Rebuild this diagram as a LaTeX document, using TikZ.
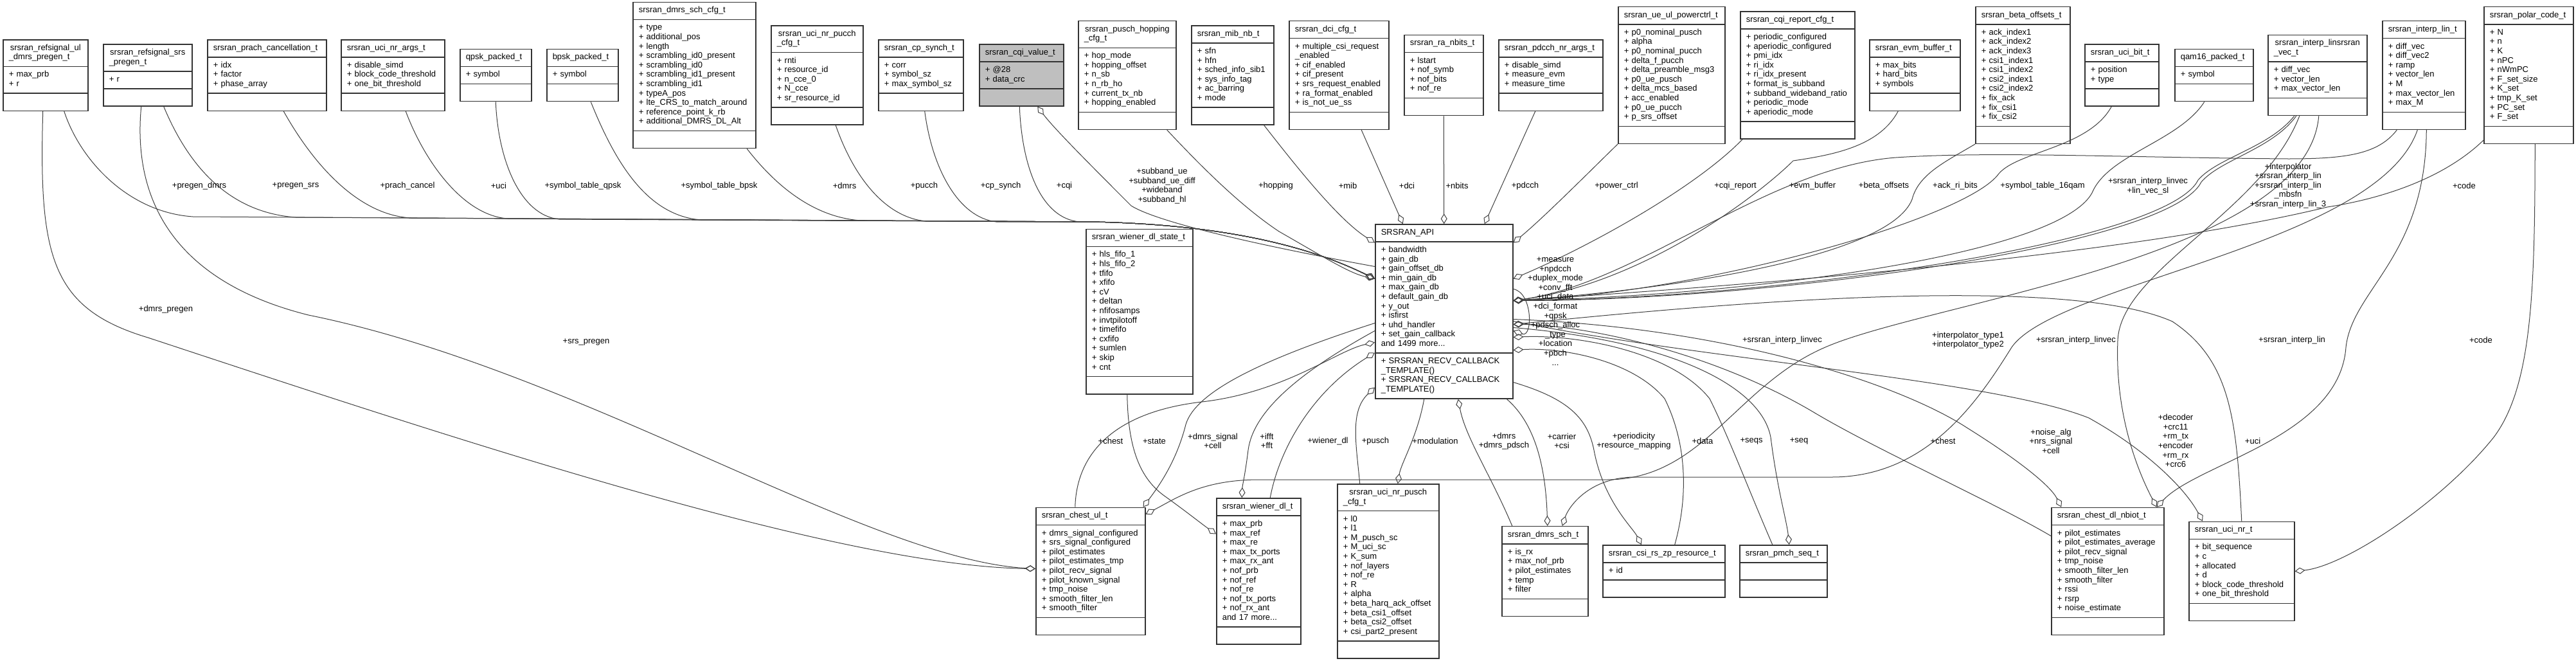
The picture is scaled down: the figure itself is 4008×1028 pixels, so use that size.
\documentclass[tikz,border=0pt]{standalone}
\usepackage{fontspec}
\setmainfont{Liberation Sans}
\usepackage{tikz}
\usetikzlibrary{shapes.multipart}
\usetikzlibrary{arrows.meta}

\begin{document}
\begin{tikzpicture}[x=1pt, y=-1pt,
    cls/.style={rectangle split, rectangle split parts=3, draw=black!80, line width=1.5pt,
      fill=white, anchor=west, align=left, inner xsep=9pt, inner ysep=5.5pt,
      font=\fontsize{13}{14.6}\selectfont},
    link/.style={draw=black!75, line width=1pt, -{Diamond[open, length=16pt, width=10pt]}},
    lbl/.style={align=center, inner sep=0pt, font=\fontsize{13}{14.6}\selectfont}]
    \useasboundingbox (0,0) rectangle (4008,1028);

    % Top row of structs
    \node[cls, text width=114pt] (refsigul) at (4,117) {\centering\strut srsran\_refsignal\_ul\\\_dmrs\_pregen\_t\strut
      \nodepart{two}\strut+~max\_prb\\+~r\strut \nodepart{three}\strut};
    \node[cls, text width=120pt] (refsigsrs) at (160,117) {\centering\strut srsran\_refsignal\_srs\\\_pregen\_t\strut
      \nodepart{two}\strut+~r\strut \nodepart{three}\strut};
    \node[cls, text width=167pt] (prach) at (322,117) {\centering\strut srsran\_prach\_cancellation\_t\strut
      \nodepart{two}\strut+~idx\\+~factor\\+~phase\_array\strut \nodepart{three}\strut};
    \node[cls, text width=143pt] (ucinrargs) at (530,117) {\centering\strut srsran\_uci\_nr\_args\_t\strut
      \nodepart{two}\strut+~disable\_simd\\+~block\_code\_threshold\\+~one\_bit\_threshold\strut \nodepart{three}\strut};
    \node[cls, text width=93pt] (qpsk) at (715,117) {\centering\strut qpsk\_packed\_t\strut
      \nodepart{two}\strut+~symbol\strut \nodepart{three}\strut};
    \node[cls, text width=93pt] (bpsk) at (850,117) {\centering\strut bpsk\_packed\_t\strut
      \nodepart{two}\strut+~symbol\strut \nodepart{three}\strut};
    \node[cls, text width=173pt] (dmrscfg) at (984,117) {\centering\strut srsran\_dmrs\_sch\_cfg\_t\strut
      \nodepart{two}\strut+~type\\+~additional\_pos\\+~length\\+~scrambling\_id0\_present\\+~scrambling\_id0\\
      +~scrambling\_id1\_present\\+~scrambling\_id1\\+~typeA\_pos\\+~lte\_CRS\_to\_match\_around\\
      +~reference\_point\_k\_rb\\+~additional\_DMRS\_DL\_Alt\strut \nodepart{three}\strut};
    \node[cls, text width=125pt] (ucipucch) at (1199,117) {\centering\strut srsran\_uci\_nr\_pucch\\\_cfg\_t\strut
      \nodepart{two}\strut+~rnti\\+~resource\_id\\+~n\_cce\_0\\+~N\_cce\\+~sr\_resource\_id\strut \nodepart{three}\strut};
    \node[cls, text width=114pt] (cpsynch) at (1366,117) {\centering\strut srsran\_cp\_synch\_t\strut
      \nodepart{two}\strut+~corr\\+~symbol\_sz\\+~max\_symbol\_sz\strut \nodepart{three}\strut};
    \node[cls, text width=113pt, fill=black!25] (cqivalue) at (1523,117) {\centering\strut srsran\_cqi\_value\_t\strut
      \nodepart{two}\strut+~@28\\+~data\_crc\strut \nodepart{three}\strut};
    \node[cls, text width=134pt] (hopping) at (1677,117) {\centering\strut srsran\_pusch\_hopping\\\_cfg\_t\strut
      \nodepart{two}\strut+~hop\_mode\\+~hopping\_offset\\+~n\_sb\\+~n\_rb\_ho\\+~current\_tx\_nb\\+~hopping\_enabled\strut
      \nodepart{three}\strut};
    \node[cls, text width=110pt] (mibnb) at (1853,117) {\centering\strut srsran\_mib\_nb\_t\strut
      \nodepart{two}\strut+~sfn\\+~hfn\\+~sched\_info\_sib1\\+~sys\_info\_tag\\+~ac\_barring\\+~mode\strut
      \nodepart{three}\strut};
    \node[cls, text width=137pt] (dcicfg) at (2005,117) {\centering\strut srsran\_dci\_cfg\_t\strut
      \nodepart{two}\strut+~multiple\_csi\_request\\\_enabled\\+~cif\_enabled\\+~cif\_present\\+~srs\_request\_enabled\\
      +~ra\_format\_enabled\\+~is\_not\_ue\_ss\strut \nodepart{three}\strut};
    \node[cls, text width=105pt] (ranbits) at (2184,117) {\centering\strut srsran\_ra\_nbits\_t\strut
      \nodepart{two}\strut+~lstart\\+~nof\_symb\\+~nof\_bits\\+~nof\_re\strut \nodepart{three}\strut};
    \node[cls, text width=144pt] (pdcchargs) at (2331,117) {\centering\strut srsran\_pdcch\_nr\_args\_t\strut
      \nodepart{two}\strut+~disable\_simd\\+~measure\_evm\\+~measure\_time\strut \nodepart{three}\strut};
    \node[cls, text width=148pt] (powerctrl) at (2517,117) {\centering\strut srsran\_ue\_ul\_powerctrl\_t\strut
      \nodepart{two}\strut+~p0\_nominal\_pusch\\+~alpha\\+~p0\_nominal\_pucch\\+~delta\_f\_pucch\\+~delta\_preamble\_msg3\\
      +~p0\_ue\_pusch\\+~delta\_mcs\_based\\+~acc\_enabled\\+~p0\_ue\_pucch\\+~p\_srs\_offset\strut \nodepart{three}\strut};
    \node[cls, text width=160pt] (cqireport) at (2707,117) {\centering\strut srsran\_cqi\_report\_cfg\_t\strut
      \nodepart{two}\strut+~periodic\_configured\\+~aperiodic\_configured\\+~pmi\_idx\\+~ri\_idx\\+~ri\_idx\_present\\
      +~format\_is\_subband\\+~subband\_wideband\_ratio\\+~periodic\_mode\\+~aperiodic\_mode\strut \nodepart{three}\strut};
    \node[cls, text width=123pt] (evmbuf) at (2908,117) {\centering\strut srsran\_evm\_buffer\_t\strut
      \nodepart{two}\strut+~max\_bits\\+~hard\_bits\\+~symbols\strut \nodepart{three}\strut};
    \node[cls, text width=129pt] (betaoff) at (3073,117) {\centering\strut srsran\_beta\_offsets\_t\strut
      \nodepart{two}\strut+~ack\_index1\\+~ack\_index2\\+~ack\_index3\\+~csi1\_index1\\+~csi1\_index2\\+~csi2\_index1\\
      +~csi2\_index2\\+~fix\_ack\\+~fix\_csi1\\+~fix\_csi2\strut \nodepart{three}\strut};
    \node[cls, text width=97pt] (ucibit) at (3243,117) {\centering\strut srsran\_uci\_bit\_t\strut
      \nodepart{two}\strut+~position\\+~type\strut \nodepart{three}\strut};
    \node[cls, text width=104pt] (qam16) at (3383,117) {\centering\strut qam16\_packed\_t\strut
      \nodepart{two}\strut+~symbol\strut \nodepart{three}\strut};
    \node[cls, text width=136pt] (linvec) at (3528,117) {\centering\strut srsran\_interp\_linsrsran\\\_vec\_t\strut
      \nodepart{two}\strut+~diff\_vec\\+~vector\_len\\+~max\_vector\_len\strut \nodepart{three}\strut};
    \node[cls, text width=111pt] (interplin) at (3706,117) {\centering\strut srsran\_interp\_lin\_t\strut
      \nodepart{two}\strut+~diff\_vec\\+~diff\_vec2\\+~ramp\\+~vector\_len\\+~M\\+~max\_vector\_len\\+~max\_M\strut
      \nodepart{three}\strut};
    \node[cls, text width=121pt] (polar) at (3864,117) {\centering\strut srsran\_polar\_code\_t\strut
      \nodepart{two}\strut+~N\\+~n\\+~K\\+~nPC\\+~nWmPC\\+~F\_set\_size\\+~K\_set\\+~tmp\_K\_set\\+~PC\_set\\+~F\_set\strut
      \nodepart{three}\strut};

    % Middle row
    \node[cls, text width=196pt] (api) at (2139,484.5) {\centering\strut SRSRAN\_API\strut
      \nodepart{two}\strut+~bandwidth\\+~gain\_db\\+~gain\_offset\_db\\+~min\_gain\_db\\+~max\_gain\_db\\+~default\_gain\_db\\
      +~y\_out\\+~isfirst\\+~uhd\_handler\\+~set\_gain\_callback\\and 1499 more...\strut
      \nodepart{three}\strut+~SRSRAN\_RECV\_CALLBACK\\\_TEMPLATE()\\+~SRSRAN\_RECV\_CALLBACK\\\_TEMPLATE()\strut};
    \node[cls, text width=148pt] (wienerstate) at (1689,484.5) {\centering\strut srsran\_wiener\_dl\_state\_t\strut
      \nodepart{two}\strut+~hls\_fifo\_1\\+~hls\_fifo\_2\\+~tfifo\\+~xfifo\\+~cV\\+~deltan\\+~nfifosamps\\+~invtpilotoff\\
      +~timefifo\\+~cxfifo\\+~sumlen\\+~skip\\+~cnt\strut \nodepart{three}\strut};

    % Bottom row
    \node[cls, text width=152pt] (chestul) at (1611,888.5) {\centering\strut srsran\_chest\_ul\_t\strut
      \nodepart{two}\strut+~dmrs\_signal\_configured\\+~srs\_signal\_configured\\+~pilot\_estimates\\+~pilot\_estimates\_tmp\\
      +~pilot\_recv\_signal\\+~pilot\_known\_signal\\+~tmp\_noise\\+~smooth\_filter\_len\\+~smooth\_filter\strut
      \nodepart{three}\strut};
    \node[cls, text width=113pt] (wienerdl) at (1892,888.5) {\centering\strut srsran\_wiener\_dl\_t\strut
      \nodepart{two}\strut+~max\_prb\\+~max\_ref\\+~max\_re\\+~max\_tx\_ports\\+~max\_rx\_ant\\+~nof\_prb\\+~nof\_ref\\
      +~nof\_re\\+~nof\_tx\_ports\\+~nof\_rx\_ant\\and 17 more...\strut \nodepart{three}\strut};
    \node[cls, text width=140pt] (ucipusch) at (2080,888.5) {\centering\strut srsran\_uci\_nr\_pusch\\\_cfg\_t\strut
      \nodepart{two}\strut+~l0\\+~l1\\+~M\_pusch\_sc\\+~M\_uci\_sc\\+~K\_sum\\+~nof\_layers\\+~nof\_re\\+~R\\+~alpha\\
      +~beta\_harq\_ack\_offset\\+~beta\_csi1\_offset\\+~beta\_csi2\_offset\\+~csi\_part2\_present\strut
      \nodepart{three}\strut};
    \node[cls, text width=116pt] (dmrssch) at (2336,888.5) {\centering\strut srsran\_dmrs\_sch\_t\strut
      \nodepart{two}\strut+~is\_rx\\+~max\_nof\_prb\\+~pilot\_estimates\\+~temp\\+~filter\strut \nodepart{three}\strut};
    \node[cls, text width=172pt] (csizp) at (2493,888.5) {\centering\strut srsran\_csi\_rs\_zp\_resource\_t\strut
      \nodepart{two}\strut+~id\strut \nodepart{three}\strut};
    \node[cls, text width=118pt] (pmch) at (2706,888.5) {\centering\strut srsran\_pmch\_seq\_t\strut
      \nodepart{two}\strut \nodepart{three}\strut};
    \node[cls, text width=157pt] (chestnbiot) at (3191,888.5) {\centering\strut srsran\_chest\_dl\_nbiot\_t\strut
      \nodepart{two}\strut+~pilot\_estimates\\+~pilot\_estimates\_average\\+~pilot\_recv\_signal\\+~tmp\_noise\\
      +~smooth\_filter\_len\\+~smooth\_filter\\+~rssi\\+~rsrp\\+~noise\_estimate\strut \nodepart{three}\strut};
    \node[cls, text width=146pt] (ucinr) at (3405,888.5) {\centering\strut srsran\_uci\_nr\_t\strut
      \nodepart{two}\strut+~bit\_sequence\\+~c\\+~allocated\\+~d\\+~block\_code\_threshold\\+~one\_bit\_threshold\strut
      \nodepart{three}\strut};

    % Top row into SRSRAN_API, left bundle
    \draw[link] ([xshift=29pt]refsigul.south) .. controls (125,250) and (200,330) .. (300,337) -- (1700,345)
      .. controls (1950,350) and (2070,400) .. ([yshift=51pt]api.west);
    \draw[link] ([xshift=25pt]refsigsrs.south) .. controls (290,250) and (350,330) .. (460,338) -- (1700,345)
      .. controls (1950,350) and (2070,400) .. ([yshift=51pt]api.west);
    \draw[link] ([xshift=26pt]prach.south) .. controls (490,260) and (560,335) .. (640,339) -- (1700,345)
      .. controls (1950,350) and (2070,400) .. ([yshift=51pt]api.west);
    \draw[link] ([xshift=20pt]ucinrargs.south) .. controls (660,250) and (720,335) .. (790,340) -- (1700,345)
      .. controls (1950,350) and (2070,400) .. ([yshift=51pt]api.west);
    \draw[link] (qpsk.south) .. controls (775,250) and (810,335) .. (870,341) -- (1700,345)
      .. controls (1950,350) and (2070,400) .. ([yshift=51pt]api.west);
    \draw[link] ([xshift=13pt]bpsk.south) .. controls (960,260) and (1010,335) .. (1090,342) -- (1700,345)
      .. controls (1950,350) and (2070,400) .. ([yshift=51pt]api.west);
    \draw[link] ([xshift=82pt]dmrscfg.south) .. controls (1200,280) and (1260,338) .. (1340,343) -- (1700,345)
      .. controls (1950,350) and (2070,400) .. ([yshift=51pt]api.west);
    \draw[link] ([xshift=29pt]ucipucch.south) .. controls (1330,280) and (1380,338) .. (1440,344) -- (1700,345)
      .. controls (1950,350) and (2070,400) .. ([yshift=51pt]api.west);
    \draw[link] ([xshift=6pt]cpsynch.south) .. controls (1450,260) and (1490,338) .. (1550,345) -- (1700,345)
      .. controls (1950,350) and (2070,400) .. ([yshift=51pt]api.west);
    \draw[link] ([xshift=-3pt]cqivalue.south) .. controls (1590,260) and (1620,340) .. (1680,345) -- (1700,345)
      .. controls (1950,350) and (2070,400) .. ([yshift=51pt]api.west);
    \draw[link] ([yshift=70pt]api.west) .. controls (1950,380) and (1800,345) .. (1760,320)
      .. controls (1700,260) and (1640,200) .. ([xshift=25pt]cqivalue.south);
    \draw[link] ([xshift=62pt]hopping.south) .. controls (1870,260) and (1930,320) .. (1990,360)
      .. controls (2060,400) and (2100,425) .. ([yshift=51pt]api.west);
    \draw[link] ([xshift=49pt]mibnb.south) .. controls (2010,250) and (2080,340) .. ([yshift=107pt]api.west);
    \draw[link] ([xshift=35pt]dcicfg.south) -- ([xshift=-64pt]api.north);
    \draw[link] (ranbits.south) -- (api.north);
    \draw[link] ([xshift=-24pt]pdcchargs.south) -- ([xshift=63pt]api.north);

    % Top row into SRSRAN_API, right side
    \draw[link] (powerctrl.south west) .. controls (2470,270) and (2400,340) .. ([yshift=107pt]api.east);
    \draw[link] ([xshift=4pt]cqireport.south west) .. controls (2640,290) and (2480,380) .. ([yshift=51pt]api.east);
    \draw[link] ([xshift=-26pt]evmbuf.south) .. controls (2925,225) and (2860,240) .. (2790,250)
      .. controls (2740,300) and (2560,440) .. ([yshift=17pt]api.east);
    \draw[link] (betaoff.south west) .. controls (3030,250) and (2985,270) .. (2975,310)
      .. controls (2940,400) and (2600,450) .. ([yshift=17pt]api.east);
    \draw[link] ([xshift=-16pt]ucibit.south) .. controls (3250,230) and (3140,235) .. (3110,270)
      .. controls (3060,340) and (2650,455) .. ([yshift=17pt]api.east);
    \draw[link] ([xshift=-15pt]qam16.south) .. controls (3390,220) and (3280,240) .. (3255,300)
      .. controls (3200,400) and (2700,460) .. ([yshift=17pt]api.east);
    \draw[link] ([xshift=-36pt]linvec.south) .. controls (3530,230) and (3450,245) .. (3420,280)
      .. controls (3370,380) and (2750,465) .. ([yshift=17pt]api.east);
    \draw[link] ([xshift=-33pt]linvec.south) .. controls (3535,232) and (3455,248) .. (3425,283)
      .. controls (3375,383) and (2755,467) .. ([yshift=17pt]api.east);
    \draw[link] ([xshift=-42pt]interplin.south) .. controls (3700,240) and (3650,247) .. (3560,247)
      .. controls (3300,245) and (3100,235) .. (2950,245) .. controls (2750,260) and (2550,440) .. ([yshift=17pt]api.east);
    \draw[link] ([yshift=6pt]polar.south west) .. controls (3800,280) and (3700,310) .. (3621,322)
      .. controls (3300,400) and (2700,445) .. ([yshift=17pt]api.east);
    \draw[link] ([yshift=35pt]api.east) .. controls (2385,455) and (2385,525) .. ([yshift=-30pt]api.east);

    % Links that skip the middle row
    \draw[link] ([xshift=-4pt]refsigul.south) .. controls (60,400) and (80,480) .. (230,525)
      .. controls (700,680) and (1300,880) .. ([yshift=4pt]chestul.west);
    \draw[link] ([xshift=-10pt]refsigsrs.south) .. controls (205,320) and (280,440) .. (480,490)
      .. controls (900,575) and (1350,870) .. ([yshift=4pt]chestul.west);
    \draw[link] ([xshift=2pt]linvec.south) .. controls (3590,400) and (3000,470) .. (2840,540)
      .. controls (2700,600) and (2650,746) .. (2500,746) -- (1960,746)
      .. controls (1870,746) and (1830,775) .. ([yshift=-11pt]chestul.north east);
    \draw[link] ([xshift=-10pt]interplin.south) .. controls (3700,380) and (3200,440) .. (3130,540)
      .. controls (3080,620) and (3000,742) .. (2850,742) -- (2540,742)
      .. controls (2470,744) and (2440,790) .. ([xshift=27pt]dmrssch.north);
    \draw[link] ([xshift=-28pt]linvec.south) .. controls (3520,330) and (3300,420) .. (3295,529)
      .. controls (3290,650) and (3330,740) .. ([xshift=-12pt]chestnbiot.north east);
    \draw[link] ([xshift=4pt]interplin.south) .. controls (3774,400) and (3660,450) .. (3650,540)
      .. controls (3640,680) and (3420,720) .. ([xshift=-12pt]chestnbiot.north east);
    \draw[link] ([xshift=10pt]polar.south) .. controls (3944,450) and (3940,600) .. (3880,680)
      .. controls (3800,780) and (3650,880) .. (ucinr.east);

    % Bottom row
    \draw[link] ([xshift=-24pt]chestul.north) .. controls (1675,700) and (1740,640) .. (1870,625)
      .. controls (2000,610) and (2080,545) .. ([yshift=-48pt]api.west);
    \draw[link] ([xshift=-19pt]wienerstate.south) .. controls (1755,690) and (1770,740) .. (1810,770)
      .. controls (1845,795) and (1870,815) .. ([yshift=58pt]wienerdl.west);
    \draw[link] ([yshift=-18pt]api.west) .. controls (1960,560) and (1860,610) .. (1845,660)
      .. controls (1830,720) and (1800,760) .. ([xshift=-4pt]chestul.north east);
    \draw[link] ([yshift=-30pt]api.west) .. controls (2020,580) and (1950,640) .. (1942,700)
      .. controls (1937,740) and (1933,755) .. ([xshift=-26pt]wienerdl.north);
    \draw[link] ([xshift=18pt]wienerdl.north) .. controls (1990,700) and (2040,610) .. ([yshift=-64pt]api.west);
    \draw[link] ([xshift=-44pt]ucipusch.north) .. controls (2110,690) and (2100,640) .. ([yshift=-118pt]api.west);
    \draw[link] ([xshift=-31pt]api.south) .. controls (2205,680) and (2180,720) .. ([xshift=15pt]ucipusch.north);
    \draw[link] ([xshift=-51pt]dmrssch.north) .. controls (2320,740) and (2280,680) .. ([xshift=22pt]api.south);
    \draw[link] ([xshift=-10pt]api.south east) .. controls (2390,660) and (2405,730) .. ([xshift=4pt]dmrssch.north);
    \draw[link] ([yshift=-110pt]api.east) .. controls (2440,620) and (2470,650) .. (2480,700)
      .. controls (2495,780) and (2540,820) .. ([xshift=-35pt]csizp.north);
    \draw[link] ([xshift=17pt]csizp.north) .. controls (2630,760) and (2620,680) .. (2590,620)
      .. controls (2540,560) and (2430,540) .. ([yshift=-60pt]api.east);
    \draw[link] ([xshift=-17pt]pmch.north) .. controls (2720,760) and (2690,680) .. (2660,620)
      .. controls (2600,545) and (2450,520) .. ([yshift=-40pt]api.east);
    \draw[link] ([yshift=-25pt]api.east) .. controls (2600,530) and (2740,600) .. (2755,680)
      .. controls (2765,760) and (2780,810) .. ([xshift=9pt]pmch.north);
    \draw[link] ([yshift=55pt]chestnbiot.west) .. controls (3100,780) and (2920,700) .. (2820,640)
      .. controls (2650,540) and (2450,505) .. ([yshift=-20pt]api.east);
    \draw[link] ([yshift=-12pt]api.east) .. controls (2700,510) and (2960,600) .. (3060,665)
      .. controls (3140,715) and (3190,755) .. ([xshift=-72pt]chestnbiot.north);
    \draw[link] (ucinr.north) .. controls (3480,650) and (3470,560) .. (3380,500)
      .. controls (3200,420) and (2600,480) .. ([yshift=-20pt]api.east);
    \draw[link] ([yshift=-15pt]api.east) .. controls (2650,560) and (3100,590) .. (3250,650)
      .. controls (3340,700) and (3400,760) .. ([xshift=22pt]ucinr.north west);

    % Labels, top
    \node[lbl] (l-pregendmrs) at (310,289) {+pregen\_dmrs};
    \node[lbl] (l-pregensrs) at (460,289) {+pregen\_srs};
    \node[lbl] (l-prach) at (634,289) {+prach\_cancel};
    \node[lbl] (l-uci) at (776,289) {+uci};
    \node[lbl] (l-qpsk) at (907,289) {+symbol\_table\_qpsk};
    \node[lbl] (l-bpsk) at (1119,289) {+symbol\_table\_bpsk};
    \node[lbl] (l-dmrs) at (1314,289) {+dmrs};
    \node[lbl] (l-pucch) at (1438,289) {+pucch};
    \node[lbl] (l-cpsynch) at (1557,289) {+cp\_synch};
    \node[lbl] (l-cqi) at (1656,289) {+cqi};
    \node[lbl] (l-subband) at (1808,289) {+subband\_ue\\+subband\_ue\_diff\\+wideband\\+subband\_hl};
    \node[lbl] (l-hopping) at (1985,289) {+hopping};
    \node[lbl] (l-mib) at (2097,289) {+mib};
    \node[lbl] (l-dci) at (2189,289) {+dci};
    \node[lbl] (l-nbits) at (2267,289) {+nbits};
    \node[lbl] (l-pdcch) at (2373,289) {+pdcch};
    \node[lbl] (l-power) at (2515,289) {+power\_ctrl};
    \node[lbl] (l-cqireport) at (2700,289) {+cqi\_report};
    \node[lbl] (l-evm) at (2820,289) {+evm\_buffer};
    \node[lbl] (l-beta) at (2931,289) {+beta\_offsets};
    \node[lbl] (l-ackri) at (3042,289) {+ack\_ri\_bits};
    \node[lbl] (l-16qam) at (3178,289) {+symbol\_table\_16qam};
    \node[lbl] (l-linvec) at (3342,289.5) {+srsran\_interp\_linvec\\+lin\_vec\_sl};
    \node[lbl] (l-interp) at (3560,289) {+interpolator\\+srsran\_interp\_lin\\+srsran\_interp\_lin\\\_mbsfn\\+srsran\_interp\_lin\_3};
    \node[lbl] (l-code) at (3834,289) {+code};

    % Labels, middle
    \node[lbl] (l-self) at (2420,484) {+measure\\+npdcch\\+duplex\_mode\\+conv\_fft\\+uci\_data\\+dci\_format\\+qpsk\\
      +pdsch\_alloc\\\_type\\+location\\+pbch\\...};
    \node[lbl] (l-dmrspregen) at (258,481) {+dmrs\_pregen};
    \node[lbl] (l-srspregen) at (912,532) {+srs\_pregen};
    \node[lbl] (l-linvecul) at (2773,529) {+srsran\_interp\_linvec};
    \node[lbl] (l-interptype) at (3062,529) {+interpolator\_type1\\+interpolator\_type2};
    \node[lbl] (l-linvecnb) at (3230,529) {+srsran\_interp\_linvec};
    \node[lbl] (l-interplinnb) at (3566,529) {+srsran\_interp\_lin};
    \node[lbl] (l-codenr) at (3860,529) {+code};

    % Labels, bottom
    \node[lbl] (l-chestul) at (1728,686) {+chest};
    \node[lbl] (l-state) at (1796,686) {+state};
    \node[lbl] (l-dmrssig) at (1887,686) {+dmrs\_signal\\+cell};
    \node[lbl] (l-fft) at (1971,686) {+ifft\\+fft};
    \node[lbl] (l-wienerdl) at (2066,686) {+wiener\_dl};
    \node[lbl] (l-pusch) at (2140,686) {+pusch};
    \node[lbl] (l-modulation) at (2233,686) {+modulation};
    \node[lbl] (l-dmrssch) at (2340,686) {+dmrs\\+dmrs\_pdsch};
    \node[lbl] (l-carrier) at (2430,686) {+carrier\\+csi};
    \node[lbl] (l-period) at (2542,686) {+periodicity\\+resource\_mapping};
    \node[lbl] (l-data) at (2649,686) {+data};
    \node[lbl] (l-seqs) at (2725,686) {+seqs};
    \node[lbl] (l-seq) at (2799,686) {+seq};
    \node[lbl] (l-chestnb) at (3023,686) {+chest};
    \node[lbl] (l-noise) at (3191,686) {+noise\_alg\\+nrs\_signal\\+cell};
    \node[lbl] (l-decoder) at (3385,685.5) {+decoder\\+crc11\\+rm\_tx\\+encoder\\+rm\_rx\\+crc6};
    \node[lbl] (l-ucinr) at (3505,686) {+uci};
\end{tikzpicture}
\end{document}
